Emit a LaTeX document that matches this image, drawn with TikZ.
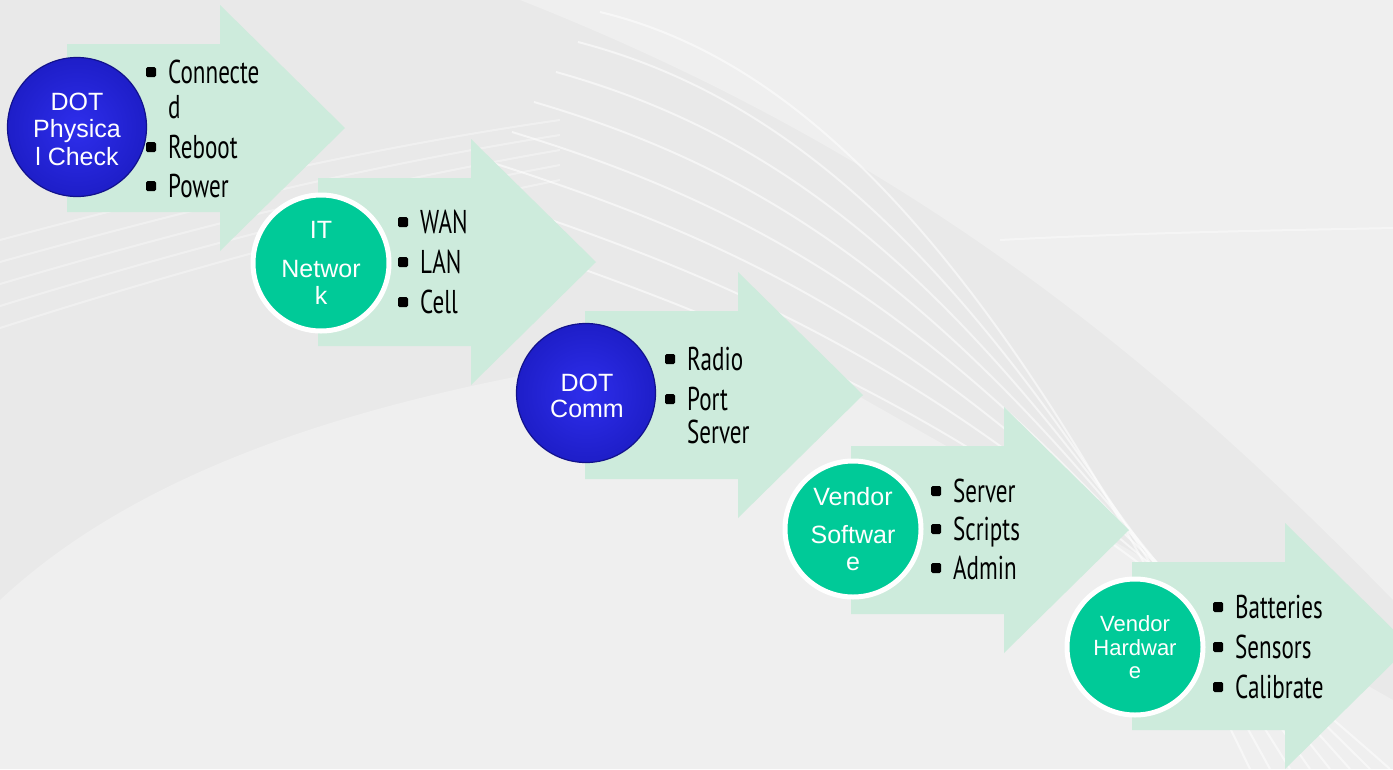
\documentclass[tikz,border=0pt]{standalone}
\usepackage{fontspec}
\setmainfont{Liberation Sans}
\newfontfamily\listfont[FakeStretch=0.7]{PT Sans}
\definecolor{bgbase}{RGB}{233,233,233}
\definecolor{bglight}{RGB}{239,239,239}
\definecolor{mint}{RGB}{205,235,220}
\definecolor{greenc}{RGB}{0,202,152}
\definecolor{blueIn}{RGB}{46,46,236}
\definecolor{blueOut}{RGB}{30,30,200}
\definecolor{blueEdge}{RGB}{18,18,140}
\tikzset{
  arrowfill/.style={fill=mint},
  bluecirc/.style={circle, minimum size=139pt, inner sep=0pt, inner color=blueIn, outer color=blueOut, draw=blueEdge, line width=1.2pt},
  greencirc/.style={circle, minimum size=136pt, inner sep=0pt, fill=greenc, draw=white, line width=5pt},
  circtext/.style={font=\fontsize{25}{27}\selectfont, text=white, anchor=base, inner sep=0pt},
  circsmall/.style={font=\fontsize{22}{24}\selectfont, text=white, anchor=base, inner sep=0pt},
  listtext/.style={font=\listfont\fontsize{33}{35}\selectfont, anchor=base west, inner sep=0pt},
  bul/.style={fill=black, rounded corners=1.5pt},
  swoosh/.style={draw=white, line width=2pt, opacity=0.55},
}
\newcommand\mintarrow[2]{%
  \fill[arrowfill] (#1,#2-84) -- (#1+153,#2-84) -- (#1+153,#2-123) -- (#1+278,#2)
    -- (#1+153,#2+123) -- (#1+153,#2+84) -- (#1,#2+84) -- cycle;}
\newcommand\bitem[4]{%
  \fill[bul] (#2-22,#3-16) rectangle (#2-12,#3-6);
  \node[listtext] (#1) at (#2,#3) {#4};}
\newcommand\citem[4]{\node[listtext] (#1) at (#2,#3) {#4};}
\begin{document}
\begin{tikzpicture}[x=1pt,y=-1pt]
\useasboundingbox (0,0) rectangle (1393,769);
\clip (0,0) rectangle (1393,769);
% background
\fill[bgbase] (0,0) rectangle (1393,769);
\fill[bglight] (520,0) .. controls (900,150) and (1150,350) .. (1393,600) -- (1393,0) -- cycle;
\fill[bglight] (0,600) .. controls (150,460) and (400,380) .. (760,340) -- (1393,700) -- (1393,769) -- (0,769) -- cycle;
\foreach \i in {0,...,7}{
  \draw[swoosh] (600-\i*22,12+\i*30) .. controls (800,60+\i*40) and (1000,250+\i*25) .. (1250+\i*20,769);
}
\foreach \i in {0,...,4}{
  \draw[swoosh, opacity=0.35] (0,240+\i*22) .. controls (150,200+\i*20) and (350,150+\i*18) .. (560,120+\i*15);
}
\draw[swoosh, opacity=0.4] (1000,240) .. controls (1150,232) and (1300,230) .. (1393,228);
% arrows
\mintarrow{67}{128}
\mintarrow{318}{262}
\mintarrow{585}{395}
\mintarrow{851}{530}
\mintarrow{1132}{646}
% circles
\node[bluecirc] (c1) at (77,127) {};
\node[greencirc] (c2) at (321,263) {};
\node[bluecirc] (c3) at (586,393) {};
\node[greencirc] (c4) at (853,529) {};
\node[greencirc] (c5) at (1135,647) {};
% circle texts
\node[circtext] (c1a) at (77,110) {DOT};
\node[circtext] (c1b) at (77,137) {Physica};
\node[circtext] (c1c) at (77,165) {l Check};
\node[circtext] (c2a) at (321,238) {IT};
\node[circtext] (c2b) at (321,277) {Networ};
\node[circtext] (c2c) at (321,304) {k};
\node[circtext] (c3a) at (587,391) {DOT};
\node[circtext] (c3b) at (587,417) {Comm};
\node[circtext] (c4a) at (853,505) {Vendor};
\node[circtext] (c4b) at (853,543) {Softwar};
\node[circtext] (c4c) at (853,570) {e};
\node[circsmall] (c5a) at (1135,631) {Vendor};
\node[circsmall] (c5b) at (1135,655) {Hardwar};
\node[circsmall] (c5c) at (1135,678) {e};
% lists
\bitem{l1a}{168}{83}{Connecte}
\citem{l1b}{168}{118}{d}
\bitem{l1c}{168}{158}{Reboot}
\bitem{l1d}{168}{197}{Power}
\bitem{l2a}{420}{233}{WAN}
\bitem{l2b}{420}{273}{LAN}
\bitem{l2c}{420}{313}{Cell}
\bitem{l3a}{687}{370}{Radio}
\bitem{l3b}{687}{410}{Port}
\citem{l3c}{687}{443}{Server}
\bitem{l4a}{953}{502}{Server}
\bitem{l4b}{953}{540}{Scripts}
\bitem{l4c}{953}{579}{Admin}
\bitem{l5a}{1235}{618}{Batteries}
\bitem{l5b}{1235}{658}{Sensors}
\bitem{l5c}{1235}{698}{Calibrate}
\end{tikzpicture}
\end{document}
